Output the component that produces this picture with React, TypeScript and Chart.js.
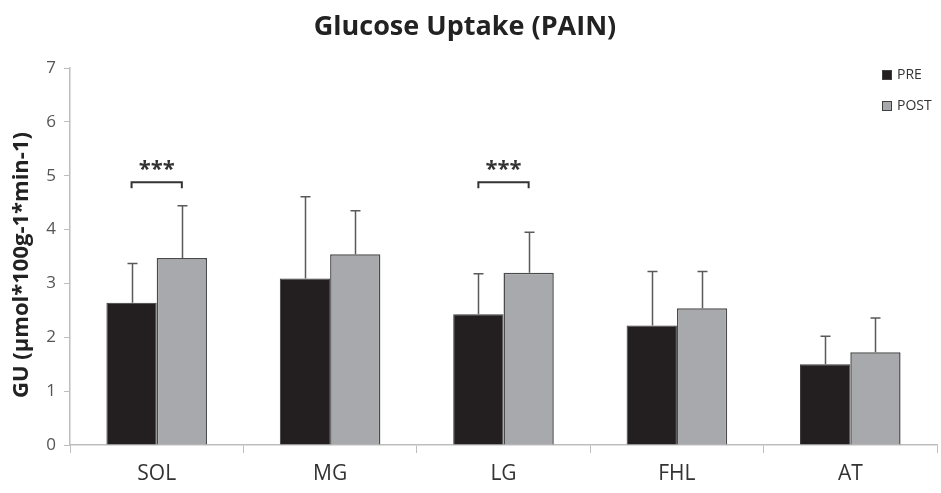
import React, { useEffect, useRef } from "react";
import { Chart, registerables } from "chart.js";

Chart.register(...registerables);

const categories = ["SOL", "MG", "LG", "FHL", "AT"];
const preValues = [2.64, 3.09, 2.43, 2.22, 1.5];
const postValues = [3.47, 3.54, 3.2, 2.54, 1.72];
const preErrors = [0.73, 1.52, 0.75, 1.0, 0.52];
const postErrors = [0.97, 0.81, 0.75, 0.68, 0.64];
const sigCategories = [0, 2];
const sigLevel = 4.88;
const sigLabel = "***";
const yTicks = [0, 1, 2, 3, 4, 5, 6, 7];
const titleText = "Glucose Uptake (PAIN)";
const yTitleText = "GU (µmol*100g-1*min-1)";

const FONT = "'Open Sans', 'DejaVu Sans', sans-serif";

const overlayPlugin = {
  id: "overlay",
  afterDatasetsDraw(chart: any) {
    const ctx = chart.ctx;
    const y = chart.scales.y;
    const errs = [preErrors, postErrors];
    ctx.save();
    // error bars (upward only)
    chart.data.datasets.forEach((ds: any, di: number) => {
      const meta = chart.getDatasetMeta(di);
      meta.data.forEach((bar: any, i: number) => {
        const v = ds.data[i];
        const top = y.getPixelForValue(v + errs[di][i]);
        const x = Math.round(bar.x) + 0.5;
        ctx.strokeStyle = "#5a5a5a";
        ctx.lineWidth = 1.5;
        ctx.beginPath();
        ctx.moveTo(x, bar.y);
        ctx.lineTo(x, top);
        ctx.moveTo(x - 5, top);
        ctx.lineTo(x + 5, top);
        ctx.stroke();
      });
    });
    // significance brackets
    const m0 = chart.getDatasetMeta(0);
    const m1 = chart.getDatasetMeta(1);
    sigCategories.forEach((ci) => {
      const x1 = m0.data[ci].x;
      const x2 = m1.data[ci].x;
      const yy = y.getPixelForValue(sigLevel);
      ctx.strokeStyle = "#333";
      ctx.lineWidth = 2;
      ctx.beginPath();
      ctx.moveTo(x1, yy + 6);
      ctx.lineTo(x1, yy);
      ctx.lineTo(x2, yy);
      ctx.lineTo(x2, yy + 6);
      ctx.stroke();
      ctx.fillStyle = "#333";
      ctx.font = `bold 22px ${FONT}`;
      ctx.textAlign = "center";
      ctx.textBaseline = "middle";
      ctx.fillText(sigLabel, (x1 + x2) / 2, yy - 12);
    });
    // title
    ctx.fillStyle = "#222";
    ctx.font = `bold 27px ${FONT}`;
    ctx.textAlign = "center";
    ctx.textBaseline = "middle";
    ctx.fillText(titleText, 465, 27);
    // y-axis title
    ctx.save();
    ctx.translate(22, 265);
    ctx.rotate(-Math.PI / 2);
    ctx.font = `bold 22px ${FONT}`;
    ctx.fillStyle = "#222";
    ctx.textAlign = "center";
    ctx.textBaseline = "middle";
    ctx.fillText(yTitleText, 0, 0);
    ctx.restore();
    // legend
    const items = [
      { label: "PRE", color: "#231f20" },
      { label: "POST", color: "#a7a9ac" },
    ];
    items.forEach((it, i) => {
      const ly = 75 + i * 31;
      ctx.fillStyle = it.color;
      ctx.fillRect(882, ly - 5, 10, 10);
      ctx.strokeStyle = "#404040";
      ctx.lineWidth = 1;
      ctx.strokeRect(882.5, ly - 4.5, 9, 9);
      ctx.fillStyle = "#333";
      ctx.font = `14px ${FONT}`;
      ctx.textAlign = "left";
      ctx.textBaseline = "middle";
      ctx.fillText(it.label, 897, ly);
    });
    ctx.restore();
  },
};

export default function App() {
  const ref = useRef<HTMLCanvasElement>(null);
  useEffect(() => {
    document.body.style.margin = "0";
    const chart = new Chart(ref.current as HTMLCanvasElement, {
      type: "bar",
      data: {
        labels: categories,
        datasets: [
          {
            label: "PRE",
            data: preValues,
            backgroundColor: "#231f20",
            borderColor: "#3a3a3a",
            borderWidth: 1,
            categoryPercentage: 0.58,
            barPercentage: 1.0,
          },
          {
            label: "POST",
            data: postValues,
            backgroundColor: "#a7a9ac",
            borderColor: "#4a4a4a",
            borderWidth: 1.5,
            categoryPercentage: 0.58,
            barPercentage: 1.0,
          },
        ],
      },
      options: {
        animation: false,
        responsive: false,
        layout: { padding: { top: 68, right: 4, left: 0, bottom: 0 } },
        plugins: { legend: { display: false }, tooltip: { enabled: false }, title: { display: false } },
        scales: {
          x: {
            grid: { display: true, drawOnChartArea: false, drawTicks: true, tickLength: 8, color: "#bdbdbd", offset: true },
            border: { color: "#bdbdbd", width: 1.5 },
            ticks: { color: "#333", font: { family: FONT, size: 21 }, padding: 8 },
            afterFit(scale: any) { scale.height = 48; },
          },
          y: {
            min: 0,
            max: 7,
            afterBuildTicks(scale: any) { scale.ticks = yTicks.map((v) => ({ value: v })); },
            grid: { display: true, drawOnChartArea: false, drawTicks: true, tickLength: 6, color: "#bdbdbd" },
            border: { color: "#bdbdbd", width: 1.5 },
            ticks: { color: "#555", font: { family: FONT, size: 17 }, padding: 8 },
            afterFit(scale: any) { scale.width = 70; },
          },
        },
      },
      plugins: [overlayPlugin],
    });
    return () => chart.destroy();
  }, []);
  return <canvas ref={ref} width={941} height={493} style={{ display: "block" }} />;
}
